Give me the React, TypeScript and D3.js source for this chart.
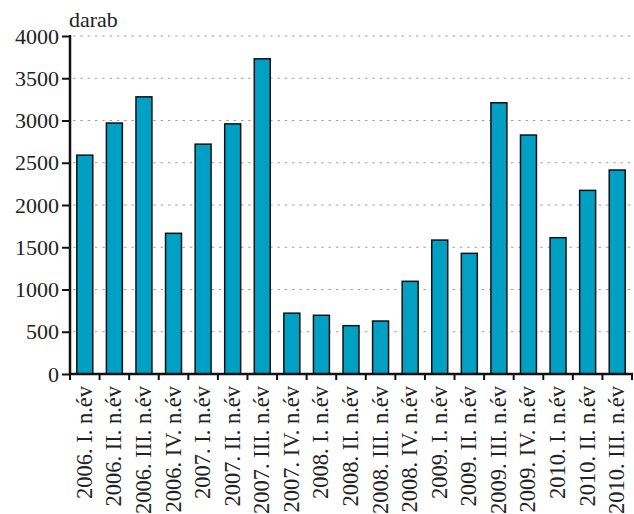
import { useEffect, useRef } from 'react';
import * as d3 from 'd3';

const categories = [
    '2006. I. n.év', '2006. II. n.év', '2006. III. n.év', '2006. IV. n.év',
    '2007. I. n.év', '2007. II. n.év', '2007. III. n.év', '2007. IV. n.év',
    '2008. I. n.év', '2008. II. n.év', '2008. III. n.év', '2008. IV. n.év',
    '2009. I. n.év', '2009. II. n.év', '2009. III. n.év', '2009. IV. n.év',
    '2010. I. n.év', '2010. II. n.év', '2010. III. n.év',
];
const values = [
    2590, 2970, 3280, 1665, 2720, 2960, 3730, 720, 695, 572, 627, 1097,
    1585, 1428, 3210, 2828, 1613, 2173, 2414,
];
const yTicks = [0, 500, 1000, 1500, 2000, 2500, 3000, 3500, 4000];
const unitLabel = 'darab';

const FONT = '"Liberation Serif", "Times New Roman", serif';

export default function App() {
    const ref = useRef<SVGSVGElement | null>(null);

    useEffect(() => {
        const width = 634;
        const height = 514;
        const left = 70;
        const right = 632;
        const top = 36;
        const bottom = 374;

        const svg = d3.select(ref.current);
        svg.selectAll('*').remove();
        svg.attr('width', width).attr('height', height);

        const x = d3.scaleBand<string>()
            .domain(categories)
            .range([left, right])
            .paddingInner(0.46)
            .paddingOuter(0.23);
        const step = (right - left) / categories.length;

        const y = d3.scaleLinear().domain([0, 4000]).range([bottom, top]);

        // grid
        svg.append('g')
            .selectAll('line')
            .data(yTicks.filter((t) => t > 0))
            .enter()
            .append('line')
            .attr('x1', left + 3)
            .attr('x2', width)
            .attr('y1', (d) => y(d))
            .attr('y2', (d) => y(d))
            .attr('stroke', '#a0a0a0')
            .attr('stroke-width', 1)
            .attr('stroke-dasharray', '2.5,4.8');

        // bars
        svg.append('g')
            .selectAll('rect')
            .data(values)
            .enter()
            .append('rect')
            .attr('x', (_, i) => x(categories[i])!)
            .attr('width', x.bandwidth())
            .attr('y', (d) => y(d))
            .attr('height', (d) => bottom - y(d))
            .attr('fill', '#009fc4')
            .attr('stroke', '#111')
            .attr('stroke-width', 1.5);

        // y axis
        const yAxis = svg.append('g')
            .attr('transform', `translate(${left},0)`)
            .call(d3.axisLeft(y).tickValues(yTicks).tickSize(8).tickPadding(3).tickFormat(d3.format('d')));
        yAxis.select('.domain').remove();
        yAxis.selectAll('line').attr('stroke', '#111').attr('stroke-width', 2);
        yAxis.selectAll('text')
            .attr('font-family', FONT)
            .attr('font-size', 22)
            .attr('fill', '#222');
        yAxis.attr('font-family', null);

        // x axis ticks at band boundaries
        svg.append('g')
            .selectAll('line')
            .data(d3.range(categories.length + 1))
            .enter()
            .append('line')
            .attr('x1', (i) => left + i * step)
            .attr('x2', (i) => left + i * step)
            .attr('y1', bottom)
            .attr('y2', bottom + 6)
            .attr('stroke', '#111')
            .attr('stroke-width', 2);

        // axis lines
        svg.append('line')
            .attr('x1', left).attr('x2', left)
            .attr('y1', top - 1).attr('y2', bottom + 1)
            .attr('stroke', '#111').attr('stroke-width', 2.5);
        svg.append('line')
            .attr('x1', left - 1).attr('x2', right + 1)
            .attr('y1', bottom).attr('y2', bottom)
            .attr('stroke', '#111').attr('stroke-width', 2.5);

        // x labels
        svg.append('g')
            .selectAll('text')
            .data(categories)
            .enter()
            .append('text')
            .attr('transform', (d) => `translate(${x(d)! + x.bandwidth() / 2 + 7},${bottom + 12}) rotate(-90)`)
            .attr('text-anchor', 'end')
            .attr('font-family', FONT)
            .attr('font-size', 22.5)
            .attr('fill', '#222')
            .text((d) => d);

        // unit label
        svg.append('text')
            .attr('x', left - 1)
            .attr('y', 27)
            .attr('font-family', FONT)
            .attr('font-size', 22)
            .attr('fill', '#222')
            .text(unitLabel);
    }, []);

    return <svg ref={ref} style={{ position: 'absolute', left: 0, top: 0, display: 'block' }} />;
}
